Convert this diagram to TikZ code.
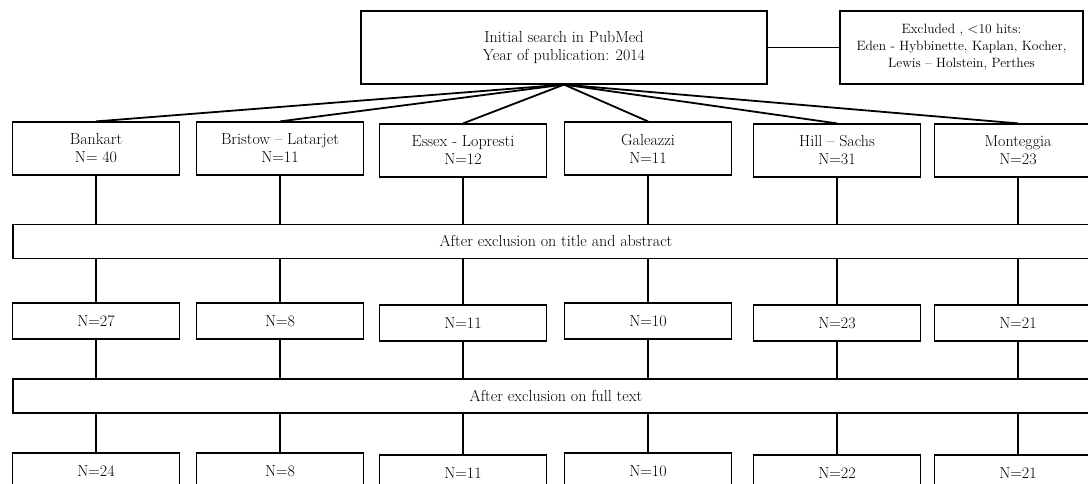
\documentclass[tikz,border=0pt]{standalone}
\usepackage{amsmath}
\usepackage{pgf,tikz}
\usetikzlibrary{positioning}
\tikzstyle{caja} = [draw=black, line width=1.2pt, rectangle, align=center, inner sep=2pt, font=\fontsize{16}{18}\selectfont]
\tikzstyle{serie} = [caja, minimum width=167pt, minimum height=53pt]
\tikzstyle{cifra} = [caja, minimum width=167pt, minimum height=36pt]
\tikzstyle{barra} = [caja, minimum width=1086pt, minimum height=34pt]
\tikzstyle{linea} = [line width=1.8pt]

\begin{document}
\begin{tikzpicture}[x=1pt,y=-1pt]
	\useasboundingbox (0,0) rectangle (1088,483);
	\node [caja, minimum width=406pt, minimum height=73pt] (busqueda) at (564,47.5) {Initial search in PubMed\\Year of publication: 2014};
	\node [caja, minimum width=243pt, minimum height=73pt, font=\fontsize{13.5}{17}\selectfont] (excluidos) at (961.5,47.5) {Excluded , $<$10 hits:\\Eden - Hybbinette, Kaplan, Kocher,\\Lewis -- Holstein, Perthes};
	\draw[linea] (busqueda) -- (excluidos);
	% primera fila
	\node [serie] (bankart) at (96,148.5) {Bankart\\N= 40};
	\node [serie] (bristow) at (280,148.5) {Bristow -- Latarjet\\N=11};
	\node [serie] (essex) at (463,150.5) {Essex - Lopresti\\N=12};
	\node [serie] (galeazzi) at (648,148.5) {Galeazzi\\N=11};
	\node [serie] (hillsachs) at (837,150.5) {Hill -- Sachs\\N=31};
	\node [serie] (monteggia) at (1018,150.5) {Monteggia\\N=23};
	\node [barra] (titulo) at (556,241.3) {After exclusion on title and abstract};
	% segunda fila
	\node [cifra] (bankart2) at (96,321) {N=27};
	\node [cifra] (bristow2) at (280,321) {N=8};
	\node [cifra] (essex2) at (463,323) {N=11};
	\node [cifra] (galeazzi2) at (648,321) {N=10};
	\node [cifra] (hillsachs2) at (837,323) {N=23};
	\node [cifra] (monteggia2) at (1018,323) {N=21};
	\node [barra] (texto) at (556,396) {After exclusion on full text};
	% tercera fila
	\node [cifra] (bankart3) at (96,471) {N=24};
	\node [cifra] (bristow3) at (280,471) {N=8};
	\node [cifra] (essex3) at (463,473) {N=11};
	\node [cifra] (galeazzi3) at (648,471) {N=10};
	\node [cifra] (hillsachs3) at (837,473) {N=22};
	\node [cifra] (monteggia3) at (1018,473) {N=21};
	\foreach \s in {bankart,bristow,essex,galeazzi,hillsachs,monteggia}{
		\draw[linea] (busqueda.south) -- (\s.north);
		\draw[linea] (\s.south) -- (\s |- titulo.north);
		\draw[linea] (titulo.south -| \s) -- (\s2.north);
		\draw[linea] (\s2.south) -- (\s2 |- texto.north);
		\draw[linea] (texto.south -| \s2) -- (\s3.north);
	}
\end{tikzpicture}
\end{document}
